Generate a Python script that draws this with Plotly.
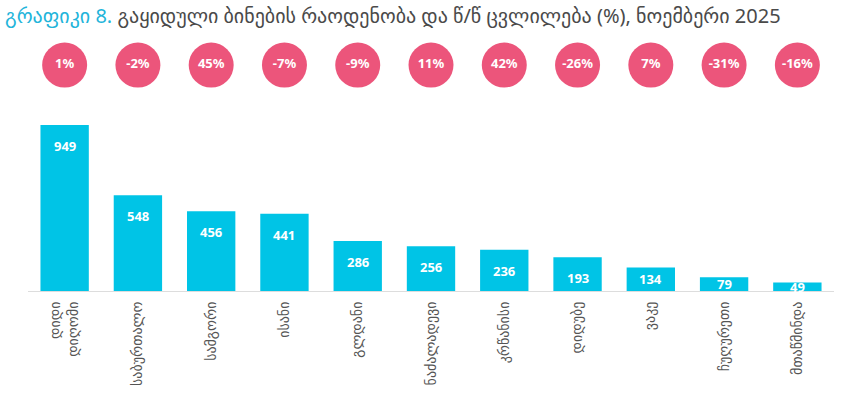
import plotly.graph_objects as go

categories = ["დიდი<br>დიღომი", "საბურთალო", "სამგორი", "ისანი", "გლდანი", "ნაძალადევი",
              "კრწანისი", "დიდუბე", "ვაკე", "ჩუღურეთი", "მთაწმინდა"]
sales = [949, 548, 456, 441, 286, 256, 236, 193, 134, 79, 49]
yoy_change = [1, -2, 45, -7, -9, 11, 42, -26, 7, -31, -16]

BAR_COLOR = "#00C4E6"
PINK = "#EC557B"
FONT = "Noto Sans, DejaVu Sans, sans-serif"

fig = go.Figure()
fig.add_trace(go.Bar(
    x=categories, y=sales, marker=dict(color=BAR_COLOR, line=dict(width=0)),
    hoverinfo="skip", showlegend=False,
))
fig.add_trace(go.Scatter(
    x=categories, y=[0.5] * len(categories), yaxis="y2", mode="markers+text",
    marker=dict(size=45, color=PINK, line=dict(width=0)),
    text=[f"{v}%" for v in yoy_change], textposition="middle center",
    textfont=dict(color="white", size=13, family=FONT, weight="bold"),
    hoverinfo="skip", showlegend=False, cliponaxis=False,
))

for c, v in zip(categories, sales):
    big = v > 150
    fig.add_annotation(
        x=c, y=v if big else v / 2, xref="x", yref="y",
        text=str(v), showarrow=False,
        yanchor="top" if big else "middle", yshift=-10 if big else 0,
        font=dict(color="white", size=13, family=FONT, weight="bold"),
    )

fig.update_layout(
    width=848, height=395,
    margin=dict(l=28, r=14, t=40, b=104, autoexpand=False),
    paper_bgcolor="white", plot_bgcolor="white",
    bargap=0.34,
    title=dict(
        text="<span style='color:#22B4DA'>გრაფიკი 8.</span> გაყიდული ბინების რაოდენობა და წ/წ ცვლილება (%), ნოემბერი 2025",
        x=0.006, xanchor="left", y=0.978, yanchor="top",
        font=dict(size=20, color="#4A4A4A", family=FONT),
    ),
    xaxis=dict(
        range=[-0.5, 10.5], tickangle=-90, showline=True, linecolor="#DDDDDD", linewidth=1,
        showgrid=False, ticks="", automargin=False, ticklabelstandoff=4,
        tickfont=dict(size=14, color="#555555", family=FONT),
    ),
    yaxis=dict(domain=[0, 0.697], range=[0, 1000], visible=False, showgrid=False),
    yaxis2=dict(domain=[0.8, 1.0], range=[0, 1], visible=False, showgrid=False),
    font=dict(family=FONT),
)

fig.write_html("out.html", config={"displayModeBar": False},
               post_script="document.body.style.margin='0';")
